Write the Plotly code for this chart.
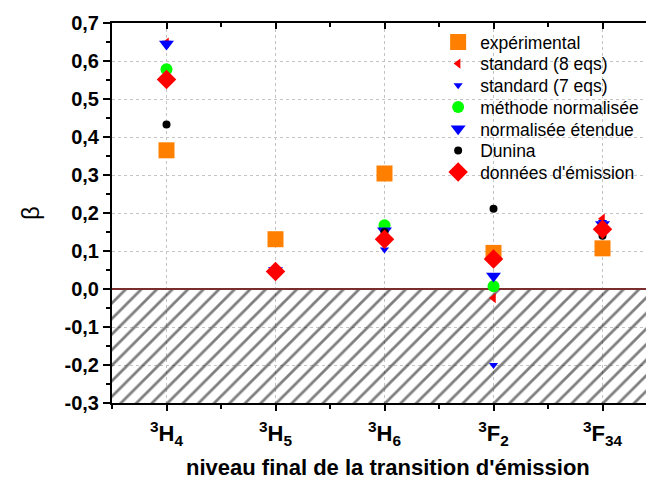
import plotly.graph_objects as go

# Final levels of the emission transition (x positions 1..5)
levels = ["<sup>3</sup>H<sub>4</sub>", "<sup>3</sup>H<sub>5</sub>", "<sup>3</sup>H<sub>6</sub>",
          "<sup>3</sup>F<sub>2</sub>", "<sup>3</sup>F<sub>34</sub>"]
level_pos = [1, 2, 3, 4, 5]

# Branching ratios beta for each method
experimental = [0.365, 0.131, 0.304, 0.095, 0.107]
standard_8 = [0.648, 0.048, 0.130, -0.024, 0.185]
standard_7 = [0.648, 0.050, 0.104, -0.200, 0.176]
normalisee = [0.578, 0.047, 0.168, 0.007, 0.160]
etendue = [0.645, 0.049, 0.153, 0.034, 0.170]
dunina = [0.433, 0.045, 0.150, 0.211, 0.140]
emission = [0.551, 0.046, 0.131, 0.079, 0.157]

y_ticks = [-0.3, -0.2, -0.1, 0.0, 0.1, 0.2, 0.3, 0.4, 0.5, 0.6, 0.7]
y_labels = [f"{v:.1f}".replace(".", ",") for v in y_ticks]

FONT = "Liberation Sans, Arial, sans-serif"

# Plot-area geometry in pixels (used to lay out the legend rows)
FIG_W, FIG_H = 646, 482
M_L, M_R, M_T, M_B = 112, 0, 23, 79
PLOT_H = FIG_H - M_T - M_B
LEGEND_X = 0.607
LEGEND_ROW0 = 42.0     # first row centre, px from top
LEGEND_STEP = 21.7     # row pitch, px

fig = go.Figure()

# Hatched region for negative (unphysical) values
fig.add_trace(go.Scatter(
    x=[0.5, 5.5, 5.5, 0.5, 0.5], y=[0, 0, -0.3, -0.3, 0],
    mode="lines", line=dict(width=0), fill="toself",
    fillcolor="rgba(0,0,0,0)",
    fillpattern=dict(shape="/", fgcolor="black", bgcolor="rgba(0,0,0,0)",
                     size=11, solidity=0.25),
    showlegend=False, hoverinfo="skip"))
fig.add_trace(go.Scatter(
    x=[0.5, 5.5], y=[0, 0], mode="lines",
    line=dict(color="#7a2e2e", width=2),
    showlegend=False, hoverinfo="skip"))

series = [
    ("expérimental", experimental, "square", 16, "#FF8000"),
    ("standard (8 eqs)", standard_8, "triangle-left", 9, "#FF0000"),
    ("standard (7 eqs)", standard_7, "triangle-down", 8, "#0000FF"),
    ("méthode normalisée", normalisee, "circle", 12, "#00FF00"),
    ("normalisée étendue", etendue, "triangle-down", 13, "#0000FF"),
    ("Dunina", dunina, "circle", 8, "#000000"),
    ("données d'émission", emission, "diamond", 15, "#FF0000"),
]
legend_layout = {}
for i, (name, vals, sym, size, color) in enumerate(series):
    key = "legend" if i == 0 else f"legend{i + 1}"
    fig.add_trace(go.Scatter(
        x=level_pos, y=vals, mode="markers", name=name, legend=key,
        marker=dict(symbol=sym, size=size, color=color, line=dict(width=0))))
    row_px = LEGEND_ROW0 + i * LEGEND_STEP
    legend_layout[key] = dict(
        x=LEGEND_X, y=1 - (row_px - M_T) / PLOT_H,
        xanchor="left", yanchor="middle",
        bgcolor="rgba(0,0,0,0)", borderwidth=0, itemwidth=34,
        font=dict(family=FONT, size=17.5, color="black"))

# Invisible trace carrying the top axis
fig.add_trace(go.Scatter(x=[1], y=[0], xaxis="x2", mode="markers",
                         marker=dict(opacity=0), showlegend=False, hoverinfo="skip"))

x_range = [0.5, 5.399]
fig.update_layout(
    width=FIG_W, height=FIG_H,
    margin=dict(l=M_L, r=M_R, t=M_T, b=M_B),
    paper_bgcolor="white", plot_bgcolor="white",
    font=dict(family=FONT, color="black"),
    showlegend=True,
    **legend_layout,
    xaxis=dict(range=x_range, tickvals=level_pos, ticktext=levels,
               tickfont=dict(family=FONT, size=22, weight="bold"),
               ticks="outside", ticklen=6, tickwidth=1.5, tickcolor="black",
               ticklabelstandoff=4,
               showline=True, linecolor="black", linewidth=2,
               showgrid=True, gridcolor="#c4c4c4", griddash="dot", gridwidth=1,
               minor=dict(ticks="outside", ticklen=4, tickwidth=1.5,
                          tickcolor="black", dtick=0.5, tick0=0.5, showgrid=False),
               zeroline=False),
    xaxis2=dict(range=x_range, overlaying="x", side="top", showticklabels=False,
                tickvals=level_pos, ticks="inside", ticklen=6, tickwidth=1.5,
                tickcolor="black", showline=True, linecolor="black", linewidth=2,
                showgrid=False, zeroline=False,
                minor=dict(ticks="inside", ticklen=4, tickwidth=1.5,
                           tickcolor="black", dtick=0.5, tick0=0.5)),
    yaxis=dict(range=[-0.3, 0.7], tickvals=y_ticks, ticktext=y_labels,
               tickfont=dict(family=FONT, size=20, weight="bold"),
               ticks="outside", ticklen=7, tickwidth=1.5, tickcolor="black",
               showline=True, linecolor="black", linewidth=2,
               showgrid=True, gridcolor="#c4c4c4", griddash="dot", gridwidth=1,
               minor=dict(ticks="outside", ticklen=4, tickwidth=1.5,
                          tickcolor="black", dtick=0.05, tick0=0, showgrid=False),
               zeroline=False),
    annotations=[
        dict(text="niveau final de la transition d'émission", xref="x", yref="paper",
             x=3.03, y=0, yshift=-64, xanchor="center", yanchor="middle",
             showarrow=False, font=dict(family=FONT, size=22, weight="bold")),
        dict(text="β", xref="paper", yref="paper", x=0, xshift=-82, y=0.5,
             textangle=-90, xanchor="center", yanchor="middle",
             showarrow=False, font=dict(family=FONT, size=24)),
    ],
)

fig.write_html("out.html")
